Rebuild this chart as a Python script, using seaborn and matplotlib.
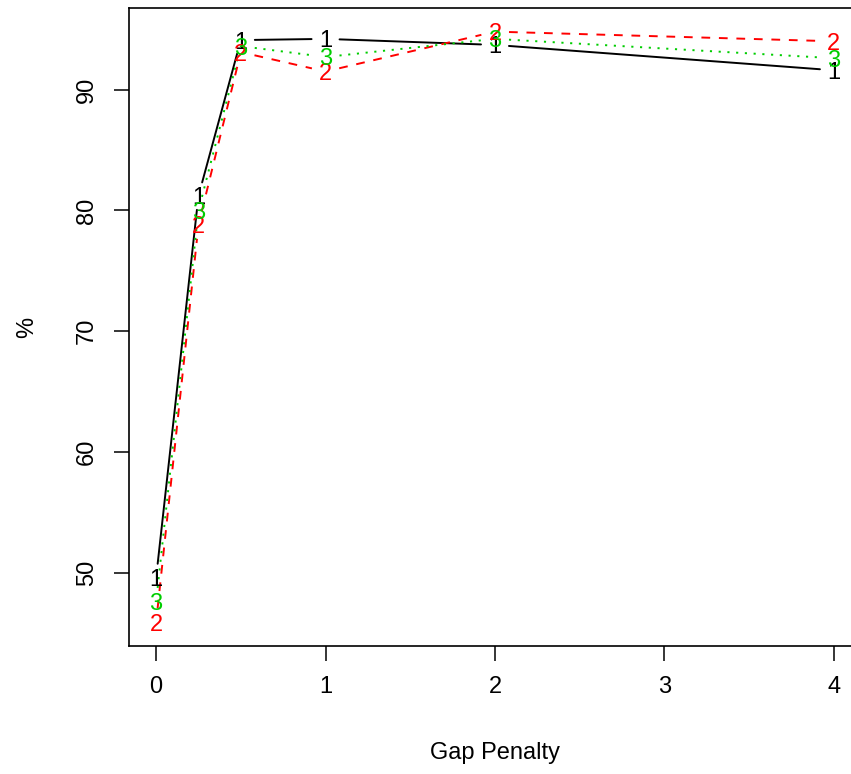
import numpy as np
import pandas as pd
import matplotlib
matplotlib.use('Agg')
import matplotlib.pyplot as plt
import matplotlib.transforms as mtransforms
import seaborn as sns

# values (matplot type="b", pch = 1, 2, 3)
gap_penalty = [0, 0.25, 0.5, 1, 2, 4]
series_1 = [49.6, 81.2, 94.1, 94.2, 93.7, 91.6]
series_2 = [45.9, 78.8, 93.1, 91.5, 94.8, 94.0]
series_3 = [47.6, 80.0, 93.6, 92.7, 94.2, 92.6]
series_names = ['1', '2', '3']
series_colors = ['black', '#FF0000', '#00CD00']
x_ticks = [0, 1, 2, 3, 4]
y_ticks = [50, 60, 70, 80, 90]

sns.set_style('white')
plt.rcParams['font.family'] = ['Liberation Sans', 'DejaVu Sans']

fig = plt.figure(figsize=(8.51, 7.74), dpi=100)
ax = fig.add_axes([129 / 851, 1 - 646 / 774, 732 / 851, 638 / 774])

# R style axis range: data range plus 4% each side
all_y = np.concatenate([series_1, series_2, series_3])
xr = max(gap_penalty) - min(gap_penalty)
yr = all_y.max() - all_y.min()
xlim = (min(gap_penalty) - 0.04 * xr, max(gap_penalty) + 0.04 * xr)
ylim = (all_y.min() - 0.04 * yr, all_y.max() + 0.04 * yr)
ax.set_xlim(xlim)
ax.set_ylim(ylim)

# lines stop short of the plotting characters, like type="b"
gap = 14  # pixels
to_px = ax.transData
from_px = to_px.inverted()
rows = []
for name, ys in zip(series_names, [series_1, series_2, series_3]):
    pts = to_px.transform(np.column_stack([gap_penalty, ys]))
    for i in range(len(pts) - 1):
        p0, p1 = pts[i], pts[i + 1]
        d = p1 - p0
        L = np.hypot(d[0], d[1])
        if L <= 2 * gap:
            continue
        u = d / L
        a = from_px.transform(p0 + u * gap)
        b = from_px.transform(p1 - u * gap)
        rows.append({'series': name, 'seg': i, 'x': a[0], 'y': a[1]})
        rows.append({'series': name, 'seg': i, 'x': b[0], 'y': b[1]})
df = pd.DataFrame(rows)

sns.lineplot(data=df, x='x', y='y', hue='series', style='series', units='seg',
             estimator=None, sort=False,
             palette=dict(zip(series_names, series_colors)),
             dashes={'1': '', '2': (4.5, 4.5), '3': (1.1, 3.4)},
             linewidth=1.4, legend=False, ax=ax)

trans = mtransforms.offset_copy(ax.transData, fig=fig, y=-6.1, units='points')
for name, ys, c in zip(series_names, [series_1, series_2, series_3], series_colors):
    for xi, yi in zip(gap_penalty, ys):
        ax.text(xi, yi, name, color=c, fontsize=17, ha='center', va='baseline',
                transform=trans)

ax.set_xlim(xlim)
ax.set_ylim(ylim)
ax.set_xticks(x_ticks)
ax.set_yticks(y_ticks)
ax.set_xticklabels([str(t) for t in x_ticks])
ax.set_yticklabels([str(t) for t in y_ticks])
ax.tick_params(bottom=True, left=True, direction='out', length=11, width=1.1,
               color='black', labelsize=17, labelcolor='black')
ax.tick_params(axis='x', pad=10.5)
ax.tick_params(axis='y', pad=11.5, labelrotation=90)
for lbl in ax.get_yticklabels():
    lbl.set_va('center')

for sp in ax.spines.values():
    sp.set_visible(True)
    sp.set_color('black')
    sp.set_linewidth(1.2)

ax.set_xlabel('Gap Penalty', fontsize=17, color='black')
ax.set_ylabel('%', fontsize=17, color='black')
ax.xaxis.set_label_coords(0.5, -0.1505)
ax.yaxis.set_label_coords(-0.124, 0.5)

fig.savefig('out.png', dpi=100)
